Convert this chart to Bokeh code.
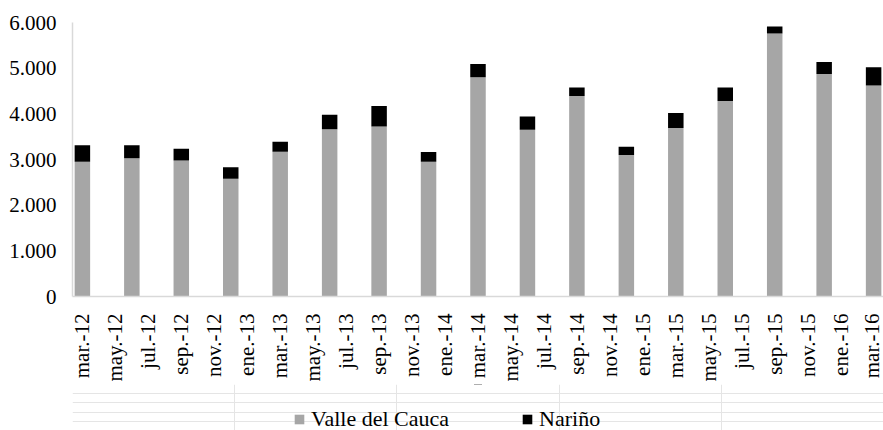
import math
from bokeh.plotting import figure
from bokeh.layouts import column
from bokeh.models import FixedTicker, Legend, LegendItem, Range1d
from bokeh.embed import file_html
from bokeh.resources import INLINE

# ---- data ----
tick_labels = ["mar.-12", "may.-12", "jul.-12", "sep.-12", "nov.-12", "ene.-13",
               "mar.-13", "may.-13", "jul.-13", "sep.-13", "nov.-13", "ene.-14",
               "mar.-14", "may.-14", "jul.-14", "sep.-14", "nov.-14", "ene.-15",
               "mar.-15", "may.-15", "jul.-15", "sep.-15", "nov.-15", "ene.-16",
               "mar.-16"]
periods = ["mar.-12", "jun.-12", "sep.-12", "dic.-12",
           "mar.-13", "jun.-13", "sep.-13", "dic.-13",
           "mar.-14", "jun.-14", "sep.-14", "dic.-14",
           "mar.-15", "jun.-15", "sep.-15", "dic.-15",
           "mar.-16"]
valle = [2950, 3025, 2980, 2580, 3170, 3660, 3720, 2950,
         4800, 3650, 4390, 3100, 3690, 4280, 5760, 4870, 4620]
narino = [360, 285, 255, 250, 220, 320, 450, 215,
          290, 290, 185, 180, 330, 295, 150, 265, 400]
y_ticks = [0, 1000, 2000, 3000, 4000, 5000, 6000]
y_tick_labels = ["0", "1.000", "2.000", "3.000", "4.000", "5.000", "6.000"]
series_names = ["Valle del Cauca", "Nariño"]
colors = ["#a6a6a6", "#000000"]

# month position of each label (monthly axis starting at mar.-12)
mon = {"ene": 1, "feb": 2, "mar": 3, "abr": 4, "may": 5, "jun": 6,
       "jul": 7, "ago": 8, "sep": 9, "oct": 10, "nov": 11, "dic": 12}
def pos(lbl):
    m, y = lbl.split(".-")
    return (int(y) - 12) * 12 + mon[m] - 3

x = [pos(p) for p in periods]
tick_pos = [pos(t) for t in tick_labels]
top = [v + n for v, n in zip(valle, narino)]

FONT = "Liberation Serif"

# ---- main chart ----
p = figure(width=883, height=384, output_backend="svg",
           toolbar_location=None, min_border_left=72, min_border_right=0,
           min_border_top=22, min_border_bottom=88,
           x_range=Range1d(-0.6, 48.6), y_range=Range1d(0, 6000))
p.outline_line_color = None
p.xgrid.visible = False
p.ygrid.visible = False

p.vbar(x=x, bottom=0, top=valle, width=0.94, fill_color=colors[0], line_color=None)
p.vbar(x=x, bottom=valle, top=top, width=0.94, fill_color=colors[1], line_color=None)

for ax in (p.xaxis[0], p.yaxis[0]):
    ax.axis_line_color = "#d9d9d9"
    ax.axis_line_width = 1.5
    ax.major_tick_line_color = None
    ax.minor_tick_line_color = None
    ax.major_label_text_font = FONT
    ax.major_label_text_font_size = "21px"
    ax.major_label_text_color = "#000000"

p.xaxis.ticker = FixedTicker(ticks=tick_pos)
p.xaxis.major_label_overrides = {t: l for t, l in zip(tick_pos, tick_labels)}
p.xaxis.major_label_orientation = math.pi / 2
p.xaxis.major_label_standoff = 11

p.yaxis.ticker = FixedTicker(ticks=y_ticks)
p.yaxis.major_label_overrides = {t: l for t, l in zip(y_ticks, y_tick_labels)}
p.yaxis.major_label_standoff = 10

# ---- legend strip below the chart ----
q = figure(width=883, height=46, output_backend="svg", toolbar_location=None,
           x_axis_location=None, y_axis_location=None,
           min_border_left=0, min_border_right=0, min_border_top=0, min_border_bottom=0,
           x_range=Range1d(0, 1), y_range=Range1d(0, 1))
q.outline_line_color = None
q.background_fill_color = "white"
q.border_fill_color = "white"
# key swatches only (placed above the visible range of the strip)
k1 = q.vbar(x=[0.5], bottom=[5], top=[6], width=0.01, fill_color=colors[0], line_color=None)
k2 = q.vbar(x=[0.5], bottom=[5], top=[6], width=0.01, fill_color=colors[1], line_color=None)
legend = Legend(items=[LegendItem(label=series_names[0], renderers=[k1]),
                       LegendItem(label=series_names[1], renderers=[k2])],
                orientation="horizontal", location=(221, -2),
                glyph_width=12, glyph_height=12, label_standoff=6, spacing=72,
                label_text_font=FONT, label_text_font_size="22px",
                label_height=22, label_text_color="#000000", border_line_color=None,
                background_fill_alpha=0, padding=0, margin=0)
q.add_layout(legend, "center")

open("out.html", "w").write(file_html(column(p, q, spacing=0), INLINE))
